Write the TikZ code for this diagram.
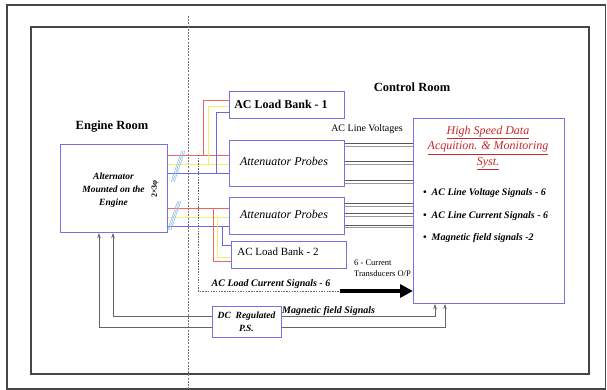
\documentclass[tikz,border=0pt]{standalone}
\usepackage{fontspec}
\setmainfont{Liberation Serif}
\usetikzlibrary{arrows.meta}
\definecolor{boxblue}{RGB}{115,115,230}
\definecolor{wred}{RGB}{240,100,100}
\definecolor{wyel}{RGB}{240,240,110}
\definecolor{wblue}{RGB}{105,105,225}
\definecolor{hashc}{RGB}{150,190,230}
\definecolor{framec}{RGB}{70,70,70}
\definecolor{titred}{RGB}{200,40,40}
\newcommand{\myfs}[1]{\fontsize{#1}{#1}\selectfont}
\begin{document}
\begin{tikzpicture}[x=1pt,y=-1pt,
  blk/.style={draw=boxblue, line width=1pt, inner sep=0pt, anchor=north west, align=center, fill=white},
  rw/.style={draw=wred, line width=1pt},
  yw/.style={draw=wyel, line width=1pt},
  bw/.style={draw=wblue, line width=1pt},
  gl/.style={draw=black!65, line width=0.8pt},
  gl2/.style={draw=black!40, line width=0.8pt},
  sig/.style={draw=black!60, line width=0.8pt},
  sigarr/.style={sig, -{Stealth[length=5pt,width=3.5pt]}},
  hashl/.style={draw=hashc, line width=0.6pt},
  lbl/.style={inner sep=0pt},
  bi/.style={lbl, font=\bfseries\itshape}
]
\useasboundingbox (0,0) rectangle (607,390);
% frames
\draw[framec, line width=1.3pt] (7,5) rectangle (605.5,389);
\draw[framec, line width=1.3pt] (31,27) rectangle (589,374);
% room separator
\draw[black!55, dashed, dash pattern=on 2pt off 1.2pt, line width=0.7pt] (188,16) -- (188,389);

% boxes
\node[blk, minimum width=107pt, minimum height=88pt] (alt) at (60,144) {};
\node[blk, minimum width=115pt, minimum height=27pt] (lb1) at (229,91) {};
\node[blk, minimum width=115pt, minimum height=46pt] (att1) at (229,140) {};
\node[blk, minimum width=115pt, minimum height=37pt] (att2) at (229,197) {};
\node[blk, minimum width=115pt, minimum height=27pt] (lb2) at (231,241) {};
\node[blk, minimum width=151pt, minimum height=185pt] (daq) at (413,118) {};
\node[blk, minimum width=69pt, minimum height=31pt] (dc) at (212,306) {};

% box texts
\node[bi, align=center, font=\bfseries\itshape\myfs{9.5}] (altt) at (113.5,190) {Alternator\\[3.5pt]Mounted on the\\[3.5pt]Engine};
\node[lbl, rotate=90, font=\bfseries\myfs{8}] (ph) at (155,189) {2×3φ};
\node[lbl, font=\bfseries\myfs{12}] (lb1t) at (281,104.5) {AC Load Bank - 1};
\node[lbl, font=\itshape\myfs{12}] (att1t) at (284,161) {Attenuator Probes};
\node[lbl, font=\itshape\myfs{12}] (att2t) at (284,214) {Attenuator Probes};
\node[lbl, font=\myfs{11}] (lb2t) at (278,252) {AC Load Bank - 2};
\node[lbl, align=center, font=\bfseries\itshape\myfs{9.5}] (dct) at (246.5,322) {DC\ \ Regulated\\[4pt]P.S.};

% room labels
\node[lbl, font=\bfseries\myfs{12.5}] (eroom) at (112,127) {Engine Room};
\node[lbl, font=\bfseries\myfs{12.5}] (croom) at (412,87) {Control Room};

% DAQ texts
\node[lbl, align=center, font=\itshape\myfs{12}, text=titred] (daqt) at (488,148)
  {\underline{High Speed Data}\\[2pt]\underline{Acquition. \& Monitoring}\\[2pt]\underline{Syst.}};
\node[bi, anchor=west, font=\bfseries\itshape\myfs{10}] (b1) at (423,193) {•\ \ AC Line Voltage Signals - 6};
\node[bi, anchor=west, font=\bfseries\itshape\myfs{10}] (b2) at (423,216) {•\ \ AC Line Current Signals - 6};
\node[bi, anchor=west, font=\bfseries\itshape\myfs{10}] (b3) at (423,238) {•\ \ Magnetic field signals -2};

% three-phase wires, top group
\draw[rw] (alt.east |- 0,156) -- (att1.west |- 0,156);
\draw[yw] (alt.east |- 0,165) -- (att1.west |- 0,165);
\draw[bw] (alt.east |- 0,174) -- (att1.west |- 0,174);
\draw[rw] (203,156) |- (lb1.west |- 0,101);
\draw[yw] (208,165) |- (lb1.west |- 0,107);
\draw[bw] (216,174) |- (lb1.west |- 0,113);
% bottom group
\draw[rw] (alt.east |- 0,208) -- (att2.west |- 0,208);
\draw[yw] (alt.east |- 0,217) -- (att2.west |- 0,217);
\draw[bw] (alt.east |- 0,226) -- (att2.west |- 0,226);
\draw[rw] (213,208) |- (lb2.west |- 0,261);
\draw[yw] (217.5,217) |- (lb2.west |- 0,257);
\draw[bw] (222,226) |- (lb2.west |- 0,245);

% hash marks
\foreach \d in {-1.6,0,1.6}{
  \draw[hashl] (172.7+\d,181.7) -- (183.3+\d,150.7);
  \draw[hashl] (169.3+\d,230) -- (179.3+\d,201);
}

% line voltages
\foreach \y in {143.3,161.7,180.7,203.3,213.3,225}{
  \draw[gl] (att1.east |- 0,\y) -- (daq.west |- 0,\y);
  \draw[gl2] (att1.east |- 0,\y+2.7) -- (daq.west |- 0,\y+2.7);
}
\node[lbl, font=\myfs{10}] (alv) at (367,129) {AC Line Voltages};

% load current signals
\draw[black!60, line width=0.6pt, dash pattern=on 1.5pt off 1.2pt] (198,155) |- (340,291);
\coordinate (thk) at (340,291);
\draw[black, line width=4pt, -{Triangle[length=13pt,width=13pt]}] (thk) -- (daq.west |- thk);
\node[bi, font=\bfseries\itshape\myfs{10}] (alc) at (271,284) {AC Load Current Signals - 6};
\node[lbl, anchor=west, font=\myfs{8.5}] (ct1) at (354,263) {6 - Current};
\node[lbl, anchor=west, font=\myfs{8.5}] (ct2) at (354,274) {Transducers O/P};

% DC supply / magnetic field signals
\draw[sigarr] (dc.west |- 0,316) -| (alt.south -| 113,0);
\draw[sigarr] (dc.west |- 0,327) -| (alt.south -| 99,0);
\draw[sigarr] (dc.east |- 0,316) -| (daq.south -| 435,0);
\draw[sigarr] (dc.east |- 0,327) -| (daq.south -| 445,0);
\node[bi, anchor=west, font=\bfseries\itshape\myfs{10}] (mfs) at (282,311) {Magnetic field Signals};
\end{tikzpicture}
\end{document}
